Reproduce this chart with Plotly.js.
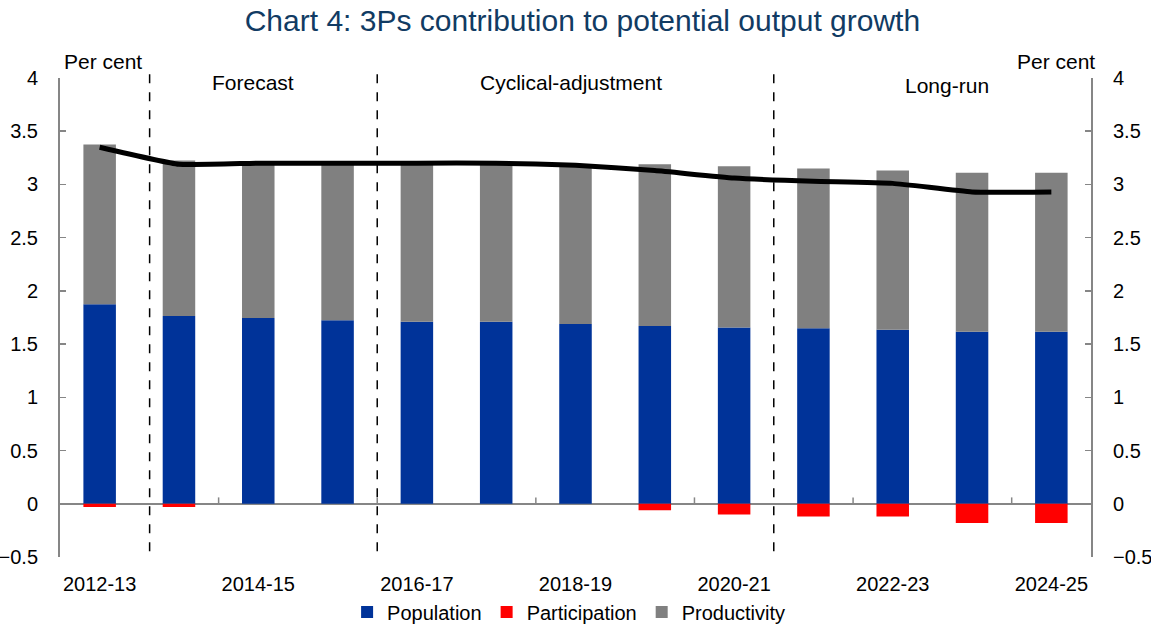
<!DOCTYPE html>
<html>
<head>
<meta charset="utf-8">
<script src="https://cdn.plot.ly/plotly-3.0.1.min.js"></script>
<style>html,body{margin:0;padding:0;background:#fff;}#chart{width:1151px;height:625px;}</style>
</head>
<body>
<div id="chart"></div>
<script>
const categories = ["2012-13","2013-14","2014-15","2015-16","2016-17","2017-18","2018-19","2019-20","2020-21","2021-22","2022-23","2023-24","2024-25"];
const population = [1.875, 1.765, 1.745, 1.725, 1.71, 1.71, 1.69, 1.67, 1.655, 1.65, 1.635, 1.615, 1.615];
const participation = [-0.03, -0.03, 0, 0, 0, 0, 0, -0.06, -0.10, -0.12, -0.12, -0.18, -0.18];
const productivity = [1.5, 1.46, 1.455, 1.475, 1.49, 1.49, 1.49, 1.52, 1.515, 1.5, 1.495, 1.495, 1.495];
const potentialGrowth = [3.35, 3.19, 3.2, 3.2, 3.2, 3.2, 3.18, 3.13, 3.06, 3.03, 3.01, 2.93, 2.93];
const tickLabels = ["2012-13","2014-15","2016-17","2018-19","2020-21","2022-23","2024-25"];
const periodLabels = ["Forecast", "Cyclical-adjustment", "Long-run"];

const FONT = "Liberation Sans, Arial, sans-serif";
const idx = categories.map((c, i) => i);

const traces = [
  {type: "bar", name: "Population", x: idx, y: population, marker: {color: "#003399"}, width: 0.41},
  {type: "bar", name: "Participation", x: idx, y: participation, marker: {color: "#FF0000"}, width: 0.41},
  {type: "bar", name: "Productivity", x: idx, y: productivity, marker: {color: "#808080"}, width: 0.41},
  {type: "scatter", mode: "lines", name: "Potential output growth", x: idx, y: potentialGrowth,
   line: {color: "#000000", width: 5, shape: "spline", smoothing: 0.4}, showlegend: false},
  {type: "scatter", x: [0], y: [0], yaxis: "y2", mode: "markers", marker: {opacity: 0}, showlegend: false, hoverinfo: "skip"}
];

const tickvals = tickLabels.map(t => categories.indexOf(t));
const dividers = [0.63, 3.5, 8.5];
const shapes = dividers.map(x => ({type: "line", xref: "x", yref: "paper", x0: x, x1: x, y0: 0.012, y1: 1.017,
  line: {color: "#000", width: 1.5, dash: "dash"}}));
[1.5, 3.5, 5.5, 7.5, 9.5, 11.5].forEach(x => shapes.push({type: "line", xref: "x", yref: "y", x0: x, x1: x, y0: 0, y1: 0.06,
  line: {color: "#868686", width: 1.5}}));

const annFont = {size: 21, color: "#000", family: FONT};
const annotations = [
  {text: "Per cent", xref: "paper", yref: "paper", x: 0.0015, y: 1.006, xanchor: "left", yanchor: "bottom", showarrow: false, font: annFont},
  {text: "Per cent", xref: "paper", yref: "paper", x: 1.006, y: 1.006, xanchor: "right", yanchor: "bottom", showarrow: false, font: annFont},
  {text: periodLabels[0], xref: "x", yref: "y", x: 1.93, y: 3.96, showarrow: false, font: annFont},
  {text: periodLabels[1], xref: "x", yref: "y", x: 5.94, y: 3.96, showarrow: false, font: annFont},
  {text: periodLabels[2], xref: "x", yref: "y", x: 10.69, y: 3.93, showarrow: false, font: annFont}
];

const yax = {range: [-0.5, 4], dtick: 0.5, tick0: 0, showgrid: false, zeroline: true, zerolinecolor: "#868686", zerolinewidth: 2,
  showline: true, linecolor: "#868686", linewidth: 2, ticks: "inside", ticklen: 6, tickcolor: "#868686", tickwidth: 1.5,
  tickfont: {size: 20, color: "#000", family: FONT}, ticklabelstandoff: 16, fixedrange: true, automargin: false};

const layout = {
  width: 1151, height: 625,
  margin: {l: 60, r: 60, t: 78, b: 68},
  paper_bgcolor: "#fff", plot_bgcolor: "#fff",
  barmode: "relative",
  font: {family: FONT, color: "#000"},
  title: {text: "Chart 4: 3Ps contribution to potential output growth", font: {size: 30, color: "#113B63", family: FONT},
    x: 0.506, xref: "container", y: 0.968, yanchor: "middle"},
  xaxis: {range: [-0.5, 12.5], tickmode: "array", tickvals: tickvals, ticktext: tickLabels, showgrid: false, zeroline: false,
    showline: false, ticks: "", tickfont: {size: 20, color: "#000", family: FONT}, ticklabelstandoff: 13, fixedrange: true, automargin: false},
  yaxis: yax,
  yaxis2: Object.assign({}, yax, {overlaying: "y", side: "right", zeroline: false, ticklabelstandoff: 16}),
  legend: {orientation: "h", x: 0.494, xanchor: "center", xref: "container", y: 0.021, yanchor: "middle", yref: "container",
    font: {size: 20, color: "#000", family: FONT}, itemwidth: 30, traceorder: "normal", tracegroupgap: 0},
  shapes: shapes,
  annotations: annotations,
  showlegend: true
};

Plotly.newPlot("chart", traces, layout, {displayModeBar: false, staticPlot: true});
</script>
</body>
</html>
